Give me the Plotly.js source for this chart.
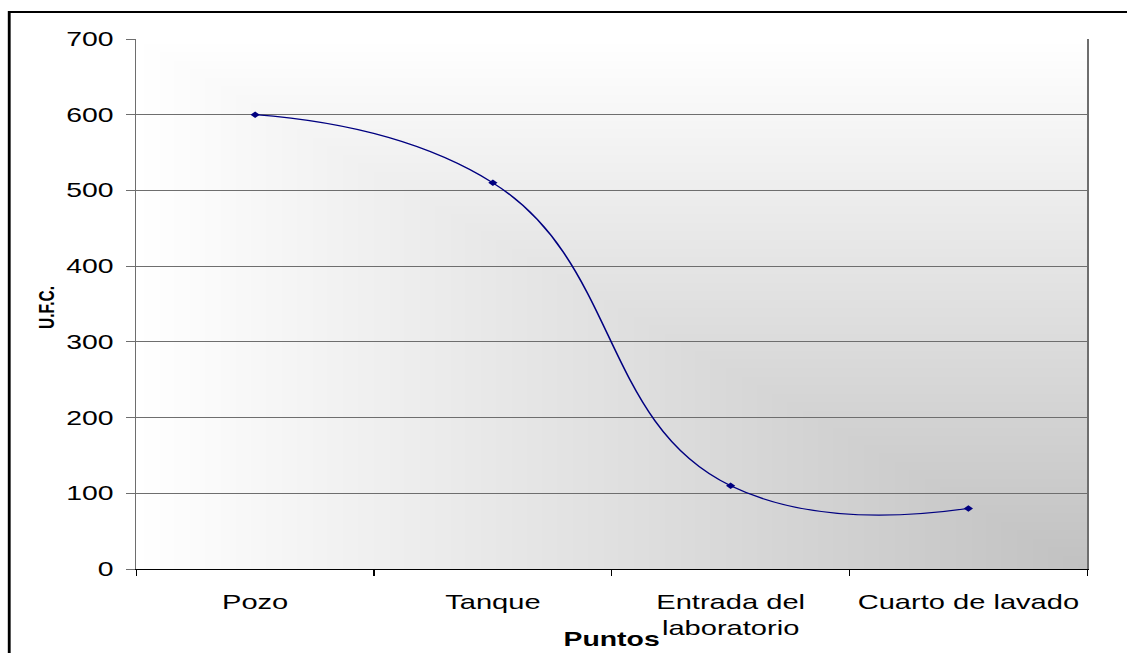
<!DOCTYPE html>
<html>
<head>
<meta charset="utf-8">
<script src="https://cdn.plot.ly/plotly-3.0.1.min.js"></script>
<style>
  html, body { margin: 0; padding: 0; background: #ffffff; overflow: hidden; }
  #wrap { width: 1127px; height: 653px; overflow: hidden; position: relative; }
  #chart { position: absolute; left: 0; top: 0; width: 794px; height: 653px;
           transform: scaleX(1.4194); transform-origin: 0 0; }
</style>
</head>
<body>
<div id="wrap"><div id="chart"></div></div>
<script>
// ---- data ----
const categories = ['Pozo', 'Tanque', 'Entrada del<br>laboratorio', 'Cuarto de lavado'];
const ufcValues = [600, 510, 110, 80];
const yTickValues = [0, 100, 200, 300, 400, 500, 600, 700];
const xAxisTitle = 'Puntos';
const yAxisTitle = 'U.F.C.';

// ---- background gradient (from bottom-right corner, white -> gray) ----
function makeGradient(w, h) {
  const c = document.createElement('canvas');
  c.width = w; c.height = h;
  const ctx = c.getContext('2d');
  const img = ctx.createImageData(w, h);
  for (let j = 0; j < h; j++) {
    const fy = j / (h - 1);
    for (let i = 0; i < w; i++) {
      const fx = i / (w - 1);
      const t = Math.min(fx, fy);
      const v = Math.round(255 - 62 * t);
      const k = (j * w + i) * 4;
      img.data[k] = v; img.data[k + 1] = v; img.data[k + 2] = v; img.data[k + 3] = 255;
    }
  }
  ctx.putImageData(img, 0, 0);
  return c.toDataURL('image/png');
}

const W = 794, H = 653;
const M = { l: 96, r: 28, t: 39, b: 84 };
const plotW = W - M.l - M.r, plotH = H - M.t - M.b;
const FONT = '"Liberation Sans", Arial, sans-serif';

const trace = {
  x: categories,
  y: ufcValues,
  type: 'scatter',
  mode: 'lines+markers',
  line: { shape: 'spline', smoothing: 1.3, color: '#000080', width: 1.2 },
  marker: { symbol: 'diamond', size: 5, color: '#000080' },
  cliponaxis: false,
  hoverinfo: 'x+y'
};

const layout = {
  width: W, height: H,
  margin: M,
  paper_bgcolor: 'rgba(0,0,0,0)',
  plot_bgcolor: 'rgba(0,0,0,0)',
  showlegend: false,
  font: { family: FONT, color: '#000000' },
  xaxis: {
    type: 'category',
    range: [-0.5, 3.5],
    tickson: 'boundaries',
    ticks: 'outside', ticklen: 6, tickcolor: '#000000', tickwidth: 1,
    ticklabelstandoff: 14,
    showline: true, linecolor: '#000000', linewidth: 1,
    showgrid: false, zeroline: false,
    tickfont: { family: FONT, size: 20.5, color: '#000000' },
    fixedrange: true
  },
  yaxis: {
    range: [0, 700],
    tickvals: yTickValues,
    ticktext: yTickValues.map(String),
    ticks: 'outside', ticklen: 6, tickcolor: '#6e6e6e', tickwidth: 1,
    ticklabelstandoff: 5,
    showline: true, linecolor: '#6e6e6e', linewidth: 1, mirror: true,
    showgrid: true, gridcolor: '#6e6e6e', gridwidth: 1,
    zeroline: false,
    tickfont: { family: FONT, size: 20, color: '#000000' },
    fixedrange: true
  },
  images: [{
    source: makeGradient(plotW, plotH),
    xref: 'paper', yref: 'paper',
    x: 0, y: 1, sizex: 1, sizey: 1,
    xanchor: 'left', yanchor: 'top',
    sizing: 'stretch', layer: 'below'
  }],
  annotations: [
    {
      text: '<b>' + xAxisTitle + '</b>',
      xref: 'paper', yref: 'paper', x: 0.5, y: 0,
      xanchor: 'center', yanchor: 'middle', yshift: -70,
      showarrow: false,
      font: { family: FONT, size: 20, color: '#000000' }
    },
    {
      text: '<b>' + yAxisTitle + '</b>',
      xref: 'paper', yref: 'paper', x: 0, y: 0.5,
      xanchor: 'center', yanchor: 'middle', xshift: -64, yshift: -4,
      textangle: -90,
      showarrow: false,
      font: { family: FONT, size: 15.5, color: '#000000' }
    }
  ],
  shapes: [{
    type: 'rect', xref: 'paper', yref: 'paper',
    x0: (6.5 - M.l) / plotW, x1: 2,
    y0: -1, y1: (H - M.b - 12) / plotH,
    line: { color: '#000000', width: 2 },
    fillcolor: 'rgba(0,0,0,0)',
    layer: 'above'
  }]
};

Plotly.newPlot('chart', [trace], layout, { displayModeBar: false, staticPlot: true });
</script>
</body>
</html>
